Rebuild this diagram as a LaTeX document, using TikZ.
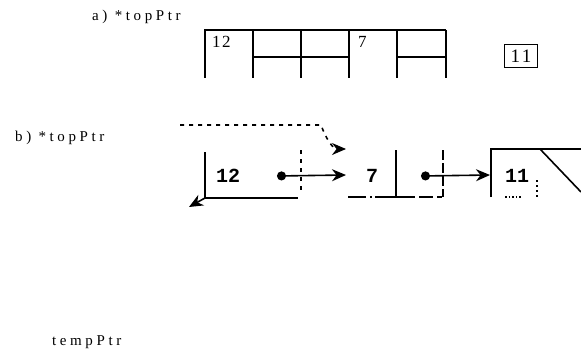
\documentclass[tikz,border=0pt]{standalone}
\usepackage{fontspec}
\setmainfont{Liberation Serif}
\newfontfamily\pixfont{Liberation Mono}
\usetikzlibrary{arrows.meta}

\begin{document}
\begin{tikzpicture}[x=1pt,y=-1pt,>={Stealth[length=14pt,width=12pt]},
    tag/.style={font=\fontsize{15}{17}\selectfont\addfontfeature{LetterSpace=24},anchor=base west,inner sep=0pt},
    val/.style={font=\fontsize{17}{19}\selectfont\addfontfeature{LetterSpace=8},inner sep=0pt},
    pix/.style={font=\pixfont\bfseries\fontsize{20}{21}\selectfont,anchor=base west,inner sep=0pt},
    grid/.style={line width=1.8pt},
    wire/.style={line width=1.6pt}]
    \useasboundingbox (0,0) rectangle (581,353);

    % a) the nodes as boxes
    \node[tag] (lbla) at (92,21) {a) *topPtr};
    \draw[grid] (205,78) -- (205,30) -- (446,30);
    \foreach \x in {253,301,349,397,446}
        \draw[grid] (\x,30) -- (\x,78);
    \draw[grid] (253,57) -- (349,57) (397,57) -- (446,57);
    \node[val,anchor=base west] (a12) at (212,48) {12};
    \node[val,anchor=base west] (a7) at (358,48) {7};
    \node[val,font=\fontsize{19}{21}\selectfont\addfontfeature{LetterSpace=12},draw,line width=1.8pt,minimum width=33pt,minimum height=23pt] (a11) at (521,56) {11};

    % b) the linked list
    \node[tag] (lblb) at (15,141) {b) *topPtr};
    \node[pix] (b12) at (216,182) {12};
    \node[pix] (b7) at (366,182) {7};
    \node[pix] (b11) at (505,182) {11};
    \coordinate (top0) at (180,125);
    \coordinate (top1) at (321,125);
    \coordinate (ttop) at (346,149);
    \coordinate (c12) at (205,198);
    \coordinate (back) at (189,207);
    \coordinate (d12) at (277,176);
    \coordinate (t7) at (346,175);
    \coordinate (d7) at (421,176);
    \coordinate (t11) at (490,175);

    \draw[wire] (205,152) -- (c12) -- (298,198);
    \draw[wire,dash pattern=on 4pt off 5pt] (301,150) -- (301,190);
    \draw[wire,dash pattern=on 18pt off 4pt on 2pt off 3pt on 40pt off 4pt on 14pt off 4pt on 12pt] (348,197) -- (442,197);
    \draw[wire] (396,150) -- (396,197);
    \draw[wire,dash pattern=on 10pt off 3pt] (443,150) -- (443,197);
    \draw[wire] (491,197) -- (491,149) -- (581,149);
    \draw[wire] (540,149) -- (581,192);
    \draw[wire,dotted] (505,197) -- (522,197);
    \draw[wire,dash pattern=on 2pt off 3pt] (537,180) -- (537,197);

    \draw[wire,->] (c12) -- (back);
    \draw[wire,{Circle[length=9pt]}->] (d12) -- (t7);
    \draw[wire,{Circle[length=9pt]}->] (d7) -- (t11);
    \draw[wire,dash pattern=on 4pt off 5pt,->] (top0) -- (top1) to[out=-70,in=180] (ttop);

    \node[tag] (tmp) at (52,345) {tempPtr};
\end{tikzpicture}
\end{document}
